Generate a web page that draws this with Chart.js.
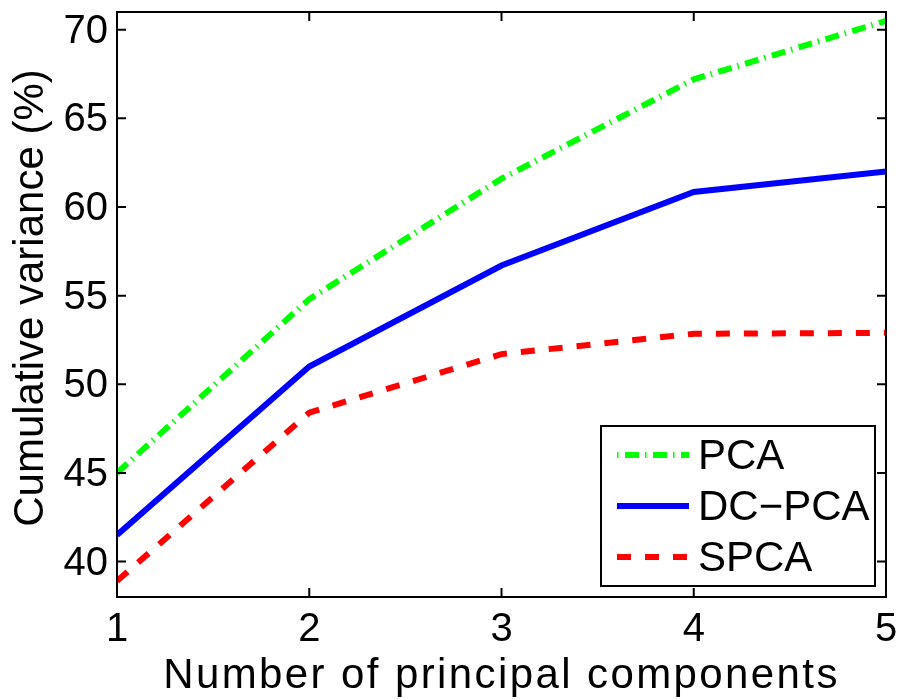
<!DOCTYPE html>
<html>
<head>
<meta charset="utf-8">
<script src="https://cdn.jsdelivr.net/npm/chart.js@4.4.1/dist/chart.umd.min.js"></script>
<style>
  html, body { margin: 0; padding: 0; background: #fff; }
  #wrap { width: 898px; height: 699px; }
</style>
</head>
<body>
<div id="wrap"><canvas id="chart" width="898" height="699"></canvas></div>
<script>
// --- données ---
const components = [1, 2, 3, 4, 5];
const pcaValues = [45.0, 54.8, 61.6, 67.2, 70.5];
const dcpcaValues = [41.5, 51.0, 56.7, 60.85, 62.0];
const spcaValues = [38.9, 48.4, 51.7, 52.85, 52.9];
const seriesLabels = ['PCA', 'DC\u2212PCA', 'SPCA'];
const xTicks = [1, 2, 3, 4, 5];
const yTicks = [40, 45, 50, 55, 60, 65, 70];
const xTitle = 'Number of principal components';
const yTitle = 'Cumulative variance (%)';

const FONT = 'Liberation Sans, Arial, sans-serif';

const toPoints = (vals) => vals.map((v, i) => ({ x: components[i], y: v }));

// Cadre, graduations internes, étiquettes et légende façon MATLAB
const matlabFrame = {
    id: 'matlabFrame',
    afterDatasetsDraw(chart) {
        const { ctx, chartArea: a, scales } = chart;
        ctx.save();
        ctx.strokeStyle = '#000';
        ctx.lineWidth = 2;
        ctx.strokeRect(a.left, a.top, a.right - a.left, a.bottom - a.top);

        const tl = 9;
        ctx.beginPath();
        xTicks.forEach(c => {
            const x = scales.x.getPixelForValue(c);
            ctx.moveTo(x, a.bottom); ctx.lineTo(x, a.bottom - tl);
            ctx.moveTo(x, a.top); ctx.lineTo(x, a.top + tl);
        });
        yTicks.forEach(t => {
            const y = scales.y.getPixelForValue(t);
            ctx.moveTo(a.left, y); ctx.lineTo(a.left + tl, y);
            ctx.moveTo(a.right, y); ctx.lineTo(a.right - tl, y);
        });
        ctx.stroke();

        // étiquettes des graduations
        ctx.fillStyle = '#000';
        ctx.font = '40px ' + FONT;
        ctx.textBaseline = 'middle';
        ctx.textAlign = 'right';
        yTicks.forEach(t => ctx.fillText(String(t), a.left - 9, scales.y.getPixelForValue(t) + 2));
        ctx.textAlign = 'center';
        xTicks.forEach(c => ctx.fillText(String(c), scales.x.getPixelForValue(c), a.bottom + 33));

        // titres des axes
        ctx.font = '42px ' + FONT;
        ctx.textBaseline = 'alphabetic';
        ctx.save();
        ctx.letterSpacing = '2.4px';
        ctx.fillText(xTitle, (a.left + a.right) / 2, 688);
        ctx.restore();
        ctx.save();
        ctx.translate(43, 298);
        ctx.rotate(-Math.PI / 2);
        ctx.fillText(yTitle, 0, 0);
        ctx.restore();

        // légende
        const box = { x: 601, y: 426, w: 274, h: 160 };
        ctx.fillStyle = '#fff';
        ctx.fillRect(box.x, box.y, box.w, box.h);
        ctx.strokeRect(box.x, box.y, box.w, box.h);
        ctx.font = '42px ' + FONT;
        ctx.textBaseline = 'middle';
        ctx.textAlign = 'left';
        chart.data.datasets.forEach((ds, i) => {
            const y = box.y + 29 + i * 51;
            ctx.save();
            ctx.strokeStyle = ds.borderColor;
            ctx.lineWidth = ds.borderWidth;
            ctx.lineCap = 'butt';
            ctx.setLineDash(ds.borderDash || []);
            ctx.lineDashOffset = ds.legendDashOffset || 0;
            ctx.beginPath();
            ctx.moveTo(617, y); ctx.lineTo(689, y);
            ctx.stroke();
            ctx.restore();
            ctx.fillStyle = '#000';
            ctx.fillText(ds.label, 698, y + 2);
        });
        ctx.restore();
    }
};

new Chart(document.getElementById('chart'), {
    type: 'line',
    data: {
        datasets: [
            {
                label: seriesLabels[0],
                data: toPoints(pcaValues),
                borderColor: '#00ff00',
                borderWidth: 6,
                borderDash: [14, 6, 1.5, 6.5],
                legendDashOffset: 20,
                pointRadius: 0,
                tension: 0
            },
            {
                label: seriesLabels[1],
                data: toPoints(dcpcaValues),
                borderColor: '#0000ff',
                borderWidth: 6,
                pointRadius: 0,
                tension: 0
            },
            {
                label: seriesLabels[2],
                data: toPoints(spcaValues),
                borderColor: '#ff0000',
                borderWidth: 6,
                borderDash: [14, 14],
                pointRadius: 0,
                tension: 0
            }
        ]
    },
    options: {
        responsive: false,
        animation: false,
        events: [],
        layout: { padding: { top: 12, right: 12, left: 0, bottom: 0 } },
        plugins: { legend: { display: false }, tooltip: { enabled: false } },
        scales: {
            x: {
                type: 'linear',
                min: 1,
                max: 5,
                grid: { display: false, drawTicks: false },
                border: { display: false },
                ticks: { display: false, stepSize: 1 },
                afterFit: (scale) => { scale.height = 102; }
            },
            y: {
                min: 38,
                max: 71,
                grid: { display: false, drawTicks: false },
                border: { display: false },
                ticks: { display: false },
                afterFit: (scale) => { scale.width = 117; }
            }
        }
    },
    plugins: [matlabFrame]
});
</script>
</body>
</html>
